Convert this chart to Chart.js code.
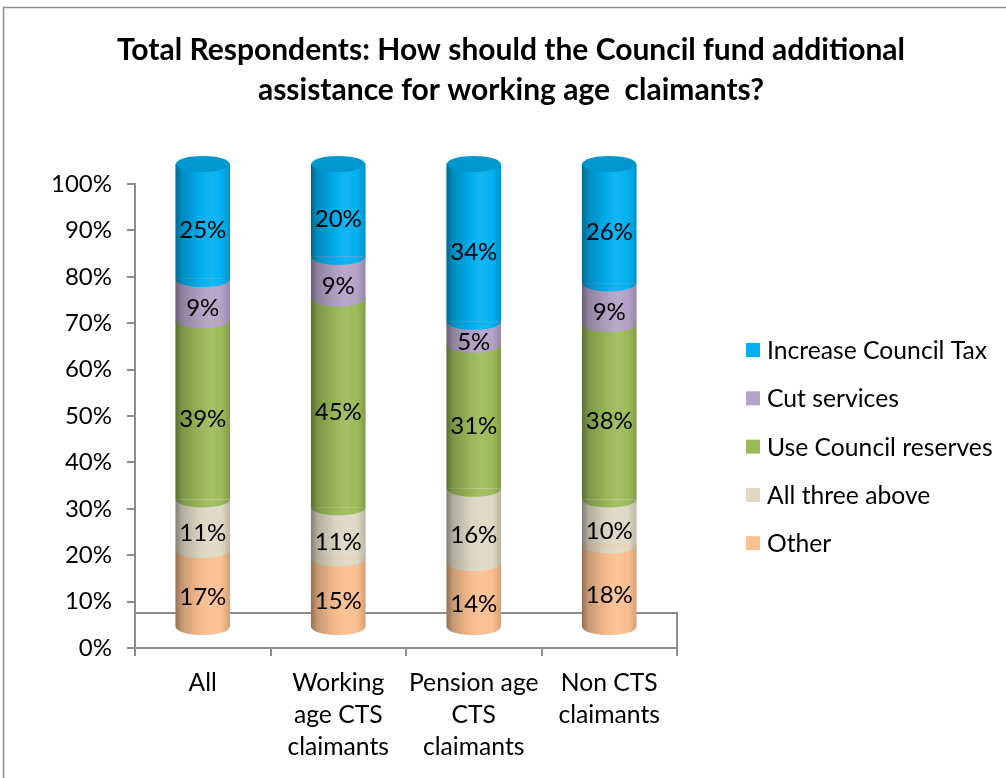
<!DOCTYPE html>
<html>
<head>
<meta charset="utf-8">
<script src="https://cdn.jsdelivr.net/npm/chart.js@4.4.1/dist/chart.umd.min.js"></script>
<style>
  html, body { margin: 0; padding: 0; background: #fff; }
</style>
</head>
<body>
<canvas id="grafica" width="1006" height="778"></canvas>
<script>
// Categorias del eje X
const categorias = ['All', ['Working', 'age CTS', 'claimants'], ['Pension age', 'CTS', 'claimants'], ['Non CTS', 'claimants']];

// Porcentajes por respuesta (de abajo hacia arriba en la pila)
const otros = [16.8, 15, 14, 17.8];
const losTres = [10.9, 11, 16, 9.9];
const reservas = [38.6, 45, 31, 37.8];
const recortes = [8.9, 9, 5, 8.8];
const impuesto = [24.8, 20, 34, 25.7];

const nombres = ['Other', 'All three above', 'Use Council reserves', 'Cut services', 'Increase Council Tax'];
const colores = ['#FAC090', '#DDD9C4', '#9BBB59', '#B3A2C7', '#00B0F0'];
const etiquetasY = ['0%', '10%', '20%', '30%', '40%', '50%', '60%', '70%', '80%', '90%', '100%'];
const titulo = ['Total Respondents: How should the Council fund additional', 'assistance for working age  claimants?'];

const fuente = 'Lato';
const gris = '#8c8c8c';
const profundidad = 20;   // desplazamiento vertical del cilindro
const radioY = 8;         // radio vertical de las elipses

// Aclara u oscurece un color hex.
function tono(hex, f) {
    const n = parseInt(hex.slice(1), 16);
    let r = n >> 16, g = (n >> 8) & 255, b = n & 255;
    if (f <= 1) {
        r *= f; g *= f; b *= f;
    } else {
        const t = f - 1;
        r += (255 - r) * t; g += (255 - g) * t; b += (255 - b) * t;
    }
    return `rgb(${Math.round(r)},${Math.round(g)},${Math.round(b)})`;
}

// Degradado horizontal para que la barra parezca cilindro
function degradado(ctx, x, w, color) {
    const g = ctx.createLinearGradient(x - w / 2, 0, x + w / 2, 0);
    g.addColorStop(0, tono(color, 0.6));
    g.addColorStop(0.12, tono(color, 0.8));
    g.addColorStop(0.45, tono(color, 0.98));
    g.addColorStop(0.65, tono(color, 1.08));
    g.addColorStop(0.85, tono(color, 1.0));
    g.addColorStop(1, tono(color, 0.84));
    return g;
}

const series = [otros, losTres, reservas, recortes, impuesto];
const datasets = series.map((datos, i) => ({
    label: nombres[i],
    data: datos,
    color: colores[i],
    barThickness: 54,
    borderWidth: 0,
    backgroundColor: (c) => {
        const chart = c.chart;
        if (!chart.chartArea || c.dataIndex === undefined) return colores[i];
        const x = chart.scales.x.getPixelForValue(c.dataIndex);
        return degradado(chart.ctx, x, 54, colores[i]);
    }
}));

// Piso 3D, tapas de los cilindros y etiquetas de valores
const cilindros = {
    id: 'cilindros',
    beforeDatasetsDraw(chart) {
        const {ctx, chartArea} = chart;
        ctx.save();
        ctx.strokeStyle = gris;
        ctx.lineWidth = 2;
        ctx.beginPath();
        ctx.moveTo(chartArea.left, chartArea.bottom - 35);
        ctx.lineTo(chartArea.right, chartArea.bottom - 35);
        ctx.lineTo(chartArea.right, chartArea.bottom);
        ctx.stroke();
        ctx.restore();
        ctx.save();
        ctx.translate(0, -profundidad);
    },
    afterDatasetsDraw(chart) {
        const ctx = chart.ctx;
        const total = chart.data.datasets.length;
        chart.data.datasets.forEach((ds, i) => {
            chart.getDatasetMeta(i).data.forEach((bar) => {
                const w = bar.width;
                ctx.beginPath();
                ctx.ellipse(bar.x, bar.base, w / 2, radioY, 0, 0, Math.PI);
                ctx.fillStyle = degradado(ctx, bar.x, w, ds.color);
                ctx.fill();
                if (i === total - 1) {
                    ctx.beginPath();
                    ctx.ellipse(bar.x, bar.y, w / 2, radioY, 0, 0, Math.PI * 2);
                    ctx.fillStyle = tono(ds.color, 0.86);
                    ctx.fill();
                }
            });
        });
        ctx.fillStyle = '#000';
        ctx.font = `24px ${fuente}`;
        ctx.textAlign = 'center';
        ctx.textBaseline = 'middle';
        chart.data.datasets.forEach((ds, i) => {
            chart.getDatasetMeta(i).data.forEach((bar, j) => {
                ctx.fillText(Math.round(ds.data[j]) + '%', bar.x, (bar.y + bar.base) / 2 + 9);
            });
        });
        ctx.restore();
    },
    afterDraw(chart) {
        const ctx = chart.ctx;
        ctx.save();
        // marco
        ctx.strokeStyle = gris;
        ctx.lineWidth = 1.5;
        ctx.beginPath();
        ctx.moveTo(3.5, 778);
        ctx.lineTo(3.5, 7.5);
        ctx.lineTo(1006, 7.5);
        ctx.stroke();
        // titulo
        ctx.fillStyle = '#000';
        ctx.font = `bold 30px ${fuente}`;
        ctx.textAlign = 'center';
        ctx.textBaseline = 'middle';
        titulo.forEach((t, i) => ctx.fillText(t, 511, 50 + i * 40));
        // leyenda en orden inverso a la pila
        ctx.font = `24.7px ${fuente}`;
        ctx.textAlign = 'left';
        for (let k = 0; k < chart.data.datasets.length; k++) {
            const ds = chart.data.datasets[chart.data.datasets.length - 1 - k];
            const y = 350 + k * 48.3;
            ctx.fillStyle = ds.color;
            ctx.fillRect(746, y - 7, 14, 14);
            ctx.fillStyle = '#000';
            ctx.fillText(ds.label, 767, y + 1);
        }
        ctx.restore();
    }
};

new Chart(document.getElementById('grafica'), {
    type: 'bar',
    data: { labels: categorias, datasets: datasets },
    options: {
        responsive: false,
        animation: false,
        layout: { padding: { top: 184, right: 329, left: 0, bottom: 0 } },
        datasets: { bar: { clip: false } },
        plugins: {
            legend: { display: false },
            title: { display: false },
            tooltip: { enabled: false }
        },
        scales: {
            x: {
                stacked: true,
                grid: { drawOnChartArea: false, tickLength: 8, color: gris, lineWidth: 2, offset: true },
                border: { color: gris, width: 2 },
                ticks: { color: '#000', font: { family: fuente, size: 24.7, lineHeight: 1.3 }, padding: 11, maxRotation: 0, autoSkip: false },
                afterFit: (s) => { s.height = 130; }
            },
            y: {
                stacked: true,
                min: 0,
                max: 100,
                grid: { drawOnChartArea: false, tickLength: 8, color: gris, lineWidth: 2 },
                border: { color: gris, width: 2 },
                ticks: { stepSize: 10, color: '#000', font: { family: fuente, size: 24 }, padding: 15,
                    callback: (v, i) => etiquetasY[i] },
                afterFit: (s) => { s.width = 135; }
            }
        }
    },
    plugins: [cilindros]
});
</script>
</body>
</html>
